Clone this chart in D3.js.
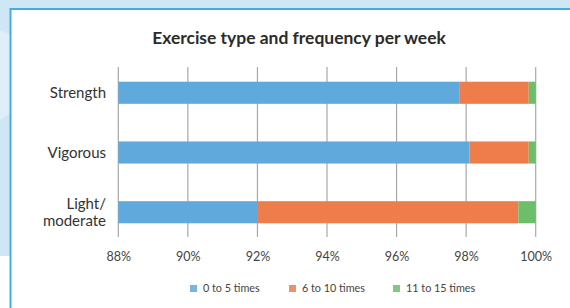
<!DOCTYPE html>
<html><head><meta charset="utf-8">
<script src="https://cdn.jsdelivr.net/npm/d3@7"></script>
<style>html,body{margin:0;padding:0;background:#fff;}svg{display:block;}</style>
</head><body>
<svg id="c" width="570" height="308"></svg>
<script>
const categories = ["Strength", "Vigorous", "Light/moderate"];
const categoryLines = [["Strength"], ["Vigorous"], ["Light/", "moderate"]];
const seriesNames = ["0 to 5 times", "6 to 10 times", "11 to 15 times"];
const low = [97.8, 98.1, 92.0];
const mid = [2.0, 1.7, 7.5];
const high = [0.2, 0.2, 0.5];
const tickValues = [88, 90, 92, 94, 96, 98, 100];
const tickLabels = ["88%", "90%", "92%", "94%", "96%", "98%", "100%"];
const colors = ["#5fa9dd", "#ef7d4b", "#6cbe6a"];

const font = "Lato, 'Open Sans', sans-serif";
const svg = d3.select("#c");

// background
svg.append("rect").attr("width",570).attr("height",308).attr("fill","#cfe7f4");
svg.append("path").attr("d","M0,30 C40,45 60,80 0,120 Z").attr("fill","#deeff9");
svg.append("rect").attr("x",0).attr("y",256).attr("width",12).attr("height",52).attr("fill","#ffffff");
// panel
svg.append("rect").attr("x",10.5).attr("y",9).attr("width",570).attr("height",310)
  .attr("fill","#fff").attr("stroke","#45ace2").attr("stroke-width",2);

const x = d3.scaleLinear().domain([88,100]).range([118.3,535.7]);
const y = d3.scaleBand().domain(categories).range([62,243]).paddingInner(0.63).paddingOuter(0.33);

function fitWidth(sel, target){
  const w = sel.node().getComputedTextLength();
  const fs = parseFloat(sel.attr("font-size"));
  if (w > 0) sel.attr("font-size", (fs*target/w).toFixed(2));
}

const title = svg.append("text").attr("x",299).attr("y",43.5).attr("text-anchor","middle")
  .attr("font-family",font).attr("font-weight","bold").attr("font-size",15.5).attr("fill","#2b2b2b")
  .text("Exercise type and frequency per week");
fitWidth(title, 294);

// grid
const gridG = svg.append("g");
gridG.selectAll("line").data(tickValues).join("line")
  .attr("x1",d=>x(d)).attr("x2",d=>x(d)).attr("y1",67).attr("y2",237)
  .attr("stroke","#a8a8a8").attr("stroke-width",1.2);

// axis labels
const axis = d3.axisBottom(x).tickValues(tickValues).tickFormat((d,i)=>tickLabels[i]).tickSize(0).tickPadding(0);
const ag = svg.append("g").attr("transform","translate(0,252.5)").call(axis);
ag.select(".domain").remove();
ag.selectAll("text").attr("font-family",font).attr("font-size",12.5).attr("fill","#444").attr("dy","0.71em");

// stacked bars
const rows = categories.map((c,i)=>({cat:c, s0:low[i], s1:mid[i], s2:high[i]}));
const stack = d3.stack().keys(["s0","s1","s2"])(rows);
stack.forEach((layer,k)=>{
  svg.append("g").selectAll("rect").data(layer).join("rect")
    .attr("x",d=>x(Math.max(88,d[0])))
    .attr("width",d=>x(d[1])-x(Math.max(88,d[0])))
    .attr("y",d=>y(d.data.cat)).attr("height",y.bandwidth())
    .attr("fill",colors[k]);
});

// category labels
const labelSize = 15;
categories.forEach((c,i)=>{
  const lines = categoryLines[i];
  const cy = y(c)+y.bandwidth()/2;
  const t = svg.append("text").attr("text-anchor","end").attr("font-family",font)
    .attr("font-size",labelSize).attr("fill","#333");
  lines.forEach((l,j)=>{
    t.append("tspan").attr("x",106).attr("y",cy + (j-(lines.length-1)/2)*16.5).attr("dy","0.35em").text(l);
  });
});

// legend
const legX = [190, 289, 393];
seriesNames.forEach((n,i)=>{
  svg.append("rect").attr("x",legX[i]).attr("y",285).attr("width",7).attr("height",7).attr("fill",colors[i]).attr("opacity",0.85);
  svg.append("text").attr("x",legX[i]+13).attr("y",288.5).attr("dy","0.35em")
    .attr("font-family",font).attr("font-size",10.8).attr("fill","#444").text(n);
});
</script>
</body></html>
